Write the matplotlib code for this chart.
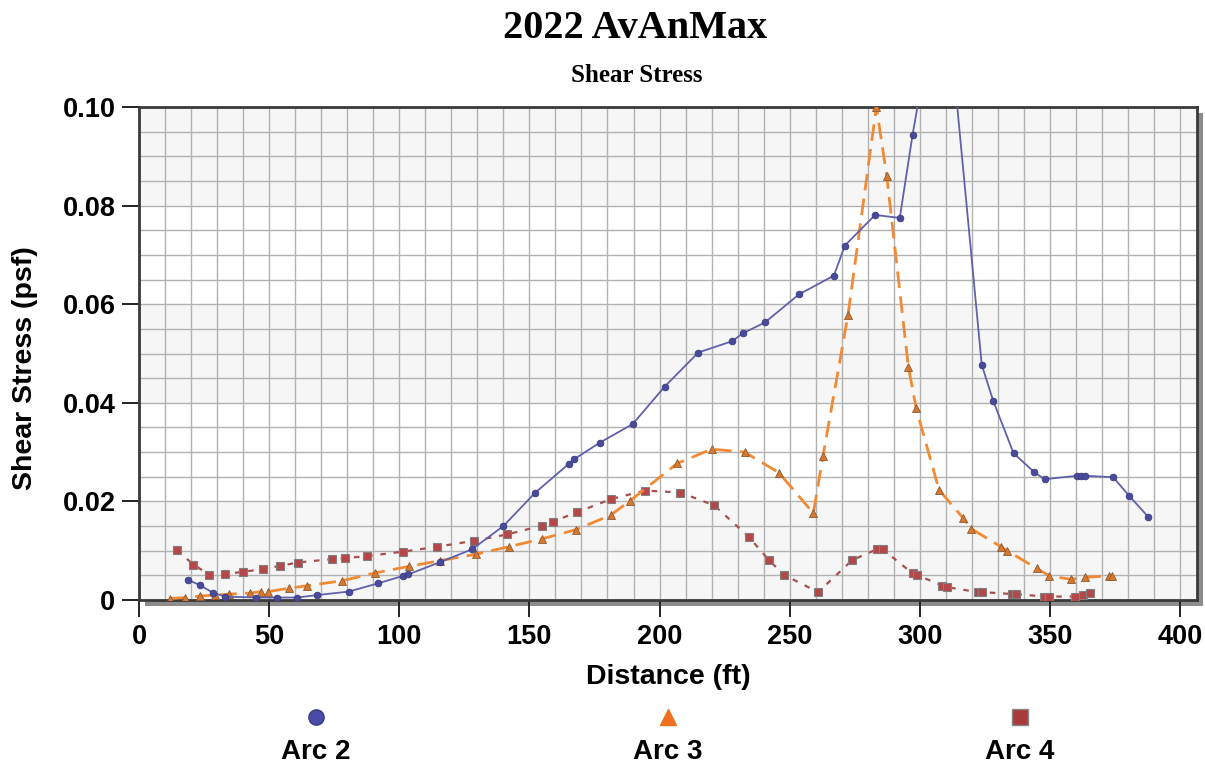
import matplotlib
matplotlib.use("Agg")
import matplotlib.pyplot as plt
from matplotlib.patches import Rectangle
import numpy as np

# Arc 2 (blue, circles)
arc2_x = [18.7, 23.5, 28.3, 33, 45, 53, 60.6, 68.5, 80.5, 92, 101.5, 103.5, 115.8, 128, 140,
          152.3, 165.1, 167.3, 177, 189.7, 202, 214.9, 227.9, 232, 240.5, 253.6, 267, 271.2,
          282.8, 292.3, 297.2, 309, 323.8, 328.2, 336, 344, 348, 360.4, 362, 363.5, 374.3,
          380.5, 387.7]
arc2_y = [0.0041, 0.003, 0.0015, 0.0007, 0.0005, 0.0005, 0.0005, 0.001, 0.0017, 0.0034, 0.0049,
          0.0052, 0.0077, 0.0103, 0.015, 0.0218, 0.0276, 0.0286, 0.0319, 0.0357, 0.0433, 0.0502,
          0.0525, 0.0541, 0.0563, 0.062, 0.0658, 0.0719, 0.0781, 0.0775, 0.0943, 0.13, 0.0477,
          0.0404, 0.0298, 0.0259, 0.0245, 0.0252, 0.0252, 0.0252, 0.0249, 0.0211, 0.0169]

# Arc 3 (orange, triangles)
arc3_x = [12, 17.7, 23.5, 29.2, 34.7, 42.7, 46.8, 49.7, 57.7, 64.7, 78, 90.8, 103.6, 115.8,
          129.6, 142, 154.9, 168, 181.2, 188.6, 206.8, 220, 232.7, 245.9, 259.1, 262.8, 272.4,
          283.3, 287.3, 295.6, 298.6, 307.4, 316.7, 319.6, 331.2, 333.5, 345, 349.7, 358, 363.5,
          372.6, 373.8]
arc3_y = [0.0003, 0.0005, 0.0008, 0.001, 0.0012, 0.0014, 0.0017, 0.0017, 0.0024, 0.0029, 0.0039,
          0.0055, 0.0068, 0.008, 0.0093, 0.0108, 0.0124, 0.0143, 0.0172, 0.0201, 0.0277, 0.0306,
          0.030, 0.0258, 0.0176, 0.0292, 0.0578, 0.1, 0.086, 0.0473, 0.0389, 0.0223, 0.0166,
          0.0145, 0.0108, 0.01, 0.0064, 0.0049, 0.0042, 0.0046, 0.0049, 0.0049]

# Arc 4 (brown, squares)
arc4_x = [14.5, 20.9, 27, 33, 40.1, 47.6, 54, 61, 74, 79, 87.6, 101.3, 114.5, 128.6, 141.4,
          154.9, 159, 168.3, 181.5, 194.6, 208, 221, 234.3, 242, 247.8, 260.9, 274.1, 283.5,
          285.7, 297.2, 298.8, 308.7, 310.6, 322.2, 324, 335.6, 336.9, 347.8, 349.5, 359.6,
          362.8, 365.4]
arc4_y = [0.0101, 0.0072, 0.0051, 0.0053, 0.0057, 0.0063, 0.0069, 0.0076, 0.0083, 0.0085, 0.0089,
          0.0098, 0.0108, 0.012, 0.0133, 0.0151, 0.0159, 0.0178, 0.0205, 0.0222, 0.0218, 0.0192,
          0.0128, 0.0081, 0.0051, 0.0016, 0.0081, 0.0103, 0.0103, 0.0054, 0.0051, 0.0029,
          0.0026, 0.0016, 0.0016, 0.0012, 0.0012, 0.0007, 0.0007, 0.0007, 0.001, 0.0014]

names = ["Arc 2", "Arc 3", "Arc 4"]
xticks = [0, 50, 100, 150, 200, 250, 300, 350, 400]
yticks = [0, 0.02, 0.04, 0.06, 0.08, 0.10]
ytick_labels = ["0", "0.02", "0.04", "0.06", "0.08", "0.10"]

sans = "Liberation Sans"
serif = "Liberation Serif"

fig = plt.figure(figsize=(12.05, 7.69), dpi=100)
W, H = 1205, 769
L, R, T, B = 139, 1197, 107, 600
ax = fig.add_axes([L / W, 1 - B / H, (R - L) / W, (B - T) / H])

# drop shadow behind the plot area
sh = 6
fig.patches.append(Rectangle(((L + sh) / W, 1 - (B + sh) / H), (R - L) / W, (B - T) / H,
                             transform=fig.transFigure, facecolor="#8c8c8c", edgecolor="none", zorder=-5))

ax.set_xlim(0, 406.5)
ax.set_ylim(0, 0.10)

# alternating background bands
for i in range(0, len(yticks) - 1, 2):
    ax.axhspan(yticks[i], yticks[i + 1], color="#f6f6f6", zorder=0, lw=0)

ax.set_xticks(xticks)
ax.set_xticks(np.arange(0, 410, 10), minor=True)
ax.set_yticks(yticks)
ax.set_yticklabels(ytick_labels)
ax.set_yticks(np.arange(0, 0.1001, 0.005), minor=True)
ax.grid(which="both", color="#b2b2b2", lw=1.0, zorder=1)
ax.set_axisbelow(True)
ax.tick_params(which="minor", length=0)
ax.tick_params(which="major", length=12, width=1.4, color="#222222", pad=5)
for lab in ax.get_xticklabels() + ax.get_yticklabels():
    lab.set_fontfamily(sans)
    lab.set_fontweight("bold")
    lab.set_fontsize(19.5)
for s in ax.spines.values():
    s.set_color("#3a3a3a")
    s.set_linewidth(2)

ax.plot(arc2_x, arc2_y, color="#6060ac", lw=1.3, marker="o", ms=4.8,
        mfc="#4a4a9c", mec="#3a3a80", mew=0.6, zorder=5)
ax.plot(arc3_x, arc3_y, color="#f08a35", lw=2.0, ls=(0, (6, 3)), marker="^", ms=5.3,
        mfc="#d9782c", mec="#8a5a35", mew=0.6, zorder=4)
ax.plot(arc4_x, arc4_y, color="#a65050", lw=1.6, ls=(0, (2.5, 3.5)), marker="s", ms=5.5,
        mfc="#b5474a", mec="#808080", mew=0.8, zorder=3)

ax.set_xlabel("Distance (ft)", fontfamily=sans, fontweight="bold", fontsize=20.5)
ax.set_ylabel("Shear Stress (psf)", fontfamily=sans, fontweight="bold", fontsize=20.5)
ax.xaxis.set_label_coords(0.5, -0.13)
ax.yaxis.set_label_coords(-0.0955, 0.47)

fig.text(635 / W, 1 - 28 / H, "2022 AvAnMax", ha="center", va="center",
         fontfamily=serif, fontweight="bold", fontsize=29)
fig.text(637 / W, 1 - 75 / H, "Shear Stress", ha="center", va="center",
         fontfamily=serif, fontweight="bold", fontsize=18)

# legend: marker above label
lax = fig.add_axes([0, 0, 1, 1], facecolor="none")
lax.set_xlim(0, W)
lax.set_ylim(H, 0)
lax.axis("off")
leg_x = [316, 668, 1020]
styles = [dict(marker="o", ms=11, mfc="#4a4aa8", mec="#3a3a80"),
          dict(marker="^", ms=12, mfc="#f07020", mec="#f07020"),
          dict(marker="s", ms=11, mfc="#a83a3a", mec="#888888")]
for xp, name, st in zip(leg_x, names, styles):
    lax.plot([xp], [717], ls="none", **st)
    lax.text(xp, 752, name, ha="center", va="center", fontfamily=sans,
             fontweight="bold", fontsize=20)

fig.savefig("out.png", dpi=100)
